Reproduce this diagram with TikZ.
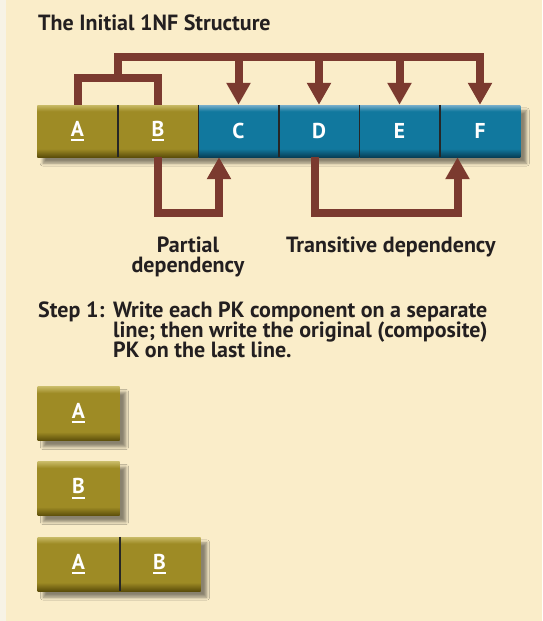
\documentclass[tikz,border=0pt]{standalone}
\usepackage{fontspec}
\setmainfont{PT Sans}
\usetikzlibrary{arrows.meta,shadows.blur}

\definecolor{paper}{HTML}{FAEDC9}
\definecolor{strip}{HTML}{F7F3E6}
\definecolor{oliveM}{HTML}{9E8B25}
\definecolor{oliveL}{HTML}{C8BA66}
\definecolor{oliveD}{HTML}{5C4E0A}
\definecolor{tealM}{HTML}{11789E}
\definecolor{tealL}{HTML}{78AECA}
\definecolor{tealD}{HTML}{073F57}
\definecolor{link}{HTML}{7B3A2F}
\definecolor{ink}{HTML}{231F20}

% bevelled bar shadings (path box spans 25bp..75bp)
\pgfdeclareverticalshading{olivebar}{100bp}{color(0bp)=(oliveD); color(25bp)=(oliveD);
  color(33bp)=(oliveM); color(69bp)=(oliveM); color(75bp)=(oliveL); color(100bp)=(oliveL)}
\pgfdeclareverticalshading{tealbar}{100bp}{color(0bp)=(tealD); color(25bp)=(tealD);
  color(33bp)=(tealM); color(69bp)=(tealM); color(75bp)=(tealL); color(100bp)=(tealL)}

\pgfdeclarelayer{bg}
\pgfsetlayers{bg,main}

% letters inside the attribute cells
\newcommand\cellfont{\fontsize{21.5}{21.5}\selectfont\bfseries\color{white}}
% primary-key attribute: white bar under the letter
\newcommand\pkey[1]{\leavevmode\vtop{\hbox{\cellfont #1}\kern2.8pt\hrule height 2pt}}
\newcommand\attr[1]{{\cellfont #1}}

\tikzset{
  cell/.style={minimum width=80.5pt, minimum height=52pt, inner sep=0pt, text=white},
  keycell/.style={cell, shade, shading=olivebar},
  attrcell/.style={cell, shade, shading=tealbar},
  solo/.style={keycell, minimum width=82pt, minimum height=54pt},
  divider/.style={draw=black!85, line width=1.6pt},
  barshadow/.style={blur shadow={shadow xshift=6pt, shadow yshift=-6pt,
    shadow blur radius=3pt, shadow opacity=45}},
  linkline/.style={draw=link, line width=8pt, line join=miter},
  linkarrow/.style={linkline, -{Triangle[width=23pt,length=22pt]}},
  label/.style={text=ink, font=\fontsize{22}{22}\selectfont\bfseries, inner sep=0pt},
}

\begin{document}
\begin{tikzpicture}[x=1pt, y=-1pt]
  \useasboundingbox (0,0) rectangle (542,621);

  % ---- the 1NF relation A B C D E F ----
  \node[keycell]  (A) at (77.5,131) {\pkey{A}};
  \node[keycell]  (B) at (158,131)  {\pkey{B}};
  \node[attrcell] (C) at (238.5,131) {\attr{C}};
  \node[attrcell] (D) at (319,131)  {\attr{D}};
  \node[attrcell] (E) at (399.5,131) {\attr{E}};
  \node[attrcell] (F) at (480,131)  {\attr{F}};

  \foreach \l/\r in {A/B,B/C,C/D,D/E,E/F}
    \draw[divider] (\l.north east) -- (\l.south east);

  \begin{pgfonlayer}{bg}
    \fill[paper] (0,0) rectangle (542,621);
    \fill[strip] (0,0) rectangle (6,621);
    \path[barshadow] (A.north west) rectangle (F.south east);
  \end{pgfonlayer}

  % ---- dependencies ----
  \coordinate (top) at (0,57);
  \coordinate (brk) at (0,78);
  \coordinate (bot) at (0,213);
  \coordinate (cIn) at ([xshift=-19.5pt]C.south);
  \coordinate (dOut) at ([xshift=-4pt]D.south);
  \coordinate (fIn) at ([xshift=-22.5pt]F.south);

  \draw[linkline] (A.north) |- (B.north |- brk) -- (B.north);
  \draw[linkarrow] (A.north east |- brk) |- (F.north |- top) -- (F.north);
  \foreach \n in {C,D,E}
    \draw[linkarrow] (\n.north |- top) -- (\n.north);

  \draw[linkarrow] (B.south) |- (cIn |- bot) -- (cIn);
  \draw[linkarrow] (dOut) |- (fIn |- bot) -- (fIn);

  % ---- texts ----
  \node[label, anchor=base west] (title) at (38,30.5) {The Initial 1NF Structure};
  \node[label, anchor=base] (part1) at (188,252) {Partial};
  \node[label, anchor=base] (part2) at (188,272) {dependency};
  \node[label, anchor=base west] (trans) at (286,252) {Transitive dependency};

  \node[label, anchor=base west] (step) at (38,317) {Step 1:};
  \node[label, anchor=base west] (s1) at (113,317) {Write each PK component on a separate};
  \node[label, anchor=base west] (s2) at (113,337) {line; then write the original (composite)};
  \node[label, anchor=base west] (s3) at (113,357) {PK on the last line.};

  % ---- decomposition: A, B, then A B ----
  \node[solo] (A1) at (78.5,413.5) {\pkey{A}};
  \node[solo] (B1) at (78.5,488.5) {\pkey{B}};
  \node[solo] (A2) at (78.5,564)   {\pkey{A}};
  \node[solo] (B2) at (159.5,564)  {\pkey{B}};
  \draw[divider] (A2.north east) -- (A2.south east);

  \begin{pgfonlayer}{bg}
    \path[barshadow] (A1.north west) rectangle (A1.south east);
    \path[barshadow] (B1.north west) rectangle (B1.south east);
    \path[barshadow] (A2.north west) rectangle (B2.south east);
  \end{pgfonlayer}
\end{tikzpicture}
\end{document}
